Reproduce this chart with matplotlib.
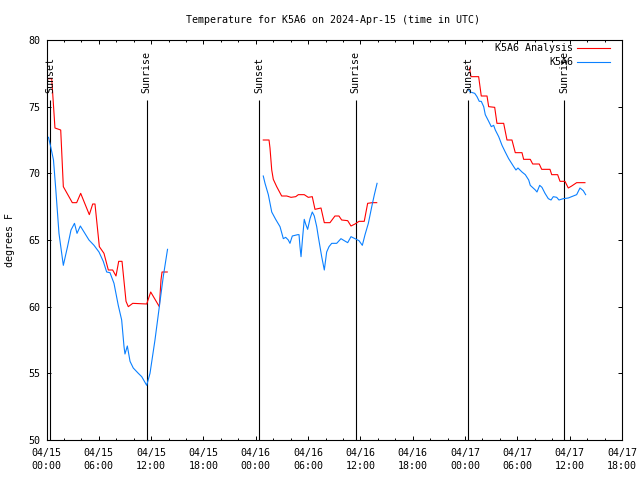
import matplotlib
matplotlib.use("Agg")
import matplotlib.pyplot as plt
from matplotlib.lines import Line2D
from matplotlib.ticker import MultipleLocator

plt.rcParams['font.family'] = ['DejaVu Sans Mono']
FS = 7.2

# hours since 2024-04-15 00:00 UTC
analysis_h1 = [0.21, 0.60, 0.97, 1.63, 1.93, 2.96, 3.46, 3.92, 4.91, 5.30, 5.56, 6.06, 6.59, 7.09, 7.59, 7.97,
               8.28, 8.66, 9.12, 9.38, 9.89, 11.49, 11.95, 12.94, 13.13, 13.25, 13.85]
analysis_t1 = [77.1, 77.1, 73.4, 73.25, 69.0, 67.8, 67.8, 68.5, 66.9, 67.7, 67.7, 64.5, 64.0, 62.75, 62.75, 62.3,
               63.4, 63.4, 60.4, 60.0, 60.25, 60.2, 61.1, 60.0, 62.0, 62.6, 62.6]
analysis_h2 = [24.86, 25.52, 25.63, 25.83, 26.01, 26.40, 26.97, 27.55, 28.04, 28.58, 28.88, 29.56, 30.02, 30.48,
               30.79, 31.48, 31.86, 32.51, 33.08, 33.54, 33.85, 34.54, 34.92, 35.38, 35.84, 36.44, 36.83, 37.36, 37.87]
analysis_t2 = [72.5, 72.5, 71.9, 70.25, 69.55, 69.0, 68.3, 68.3, 68.2, 68.25, 68.4, 68.4, 68.2, 68.25,
               67.3, 67.4, 66.3, 66.3, 66.8, 66.8, 66.5, 66.45, 66.05, 66.2, 66.4, 66.4, 67.75, 67.8, 67.8]
analysis_h3 = [48.51, 48.68, 49.56, 49.86, 50.52, 50.71, 51.40, 51.66, 52.43, 52.81, 53.38, 53.76, 54.53, 54.72,
               55.48, 55.76, 56.51, 56.79, 57.74, 57.94, 58.62, 58.89, 59.46, 59.84, 60.23, 60.80, 61.75]
analysis_t3 = [77.9, 77.25, 77.25, 75.8, 75.8, 75.0, 74.95, 73.75, 73.75, 72.5, 72.5, 71.55, 71.55, 71.05,
               71.05, 70.7, 70.7, 70.3, 70.3, 69.9, 69.9, 69.4, 69.4, 68.9, 69.05, 69.3, 69.3]

obs_h1 = [0.23, 0.48, 0.80, 1.07, 1.43, 1.93, 2.41, 2.81, 3.21, 3.50, 3.88, 4.87, 5.45, 6.02, 6.51, 6.90, 7.28,
          7.74, 8.23, 8.62, 8.89, 9.00, 9.27, 9.58, 9.95, 10.53, 10.92, 11.49, 11.87, 12.44, 12.94, 13.39, 13.88]
obs_t1 = [72.7, 72.0, 71.0, 68.75, 65.5, 63.1, 64.5, 65.75, 66.25, 65.5, 66.05, 65.0, 64.6, 64.1, 63.4, 62.6, 62.55,
          61.75, 60.1, 59.0, 57.0, 56.45, 57.05, 55.9, 55.4, 55.0, 54.75, 54.1, 55.0, 57.5, 60.0, 62.25, 64.3]
obs_h2 = [24.86, 25.06, 25.44, 25.83, 26.28, 26.78, 27.16, 27.43, 27.73, 27.92, 28.19, 28.81, 28.96, 29.07, 29.19,
          29.38, 29.56, 29.72, 29.95, 30.22, 30.48, 30.71, 30.99, 31.17, 31.56, 31.86, 32.13, 32.40, 32.71, 33.28,
          33.77, 34.15, 34.54, 34.92, 35.38, 35.84, 36.22, 36.53, 36.91, 37.30, 37.60, 37.91]
obs_t2 = [69.8, 69.25, 68.4, 67.1, 66.55, 66.0, 65.1, 65.2, 65.0, 64.75, 65.3, 65.4, 65.4, 64.5, 63.75,
          65.25, 66.55, 66.2, 65.8, 66.6, 67.1, 66.8, 66.0, 65.25, 63.75, 62.75, 64.1, 64.5, 64.75, 64.75,
          65.1, 64.95, 64.8, 65.25, 65.1, 64.95, 64.6, 65.4, 66.25, 67.5, 68.4, 69.25]
obs_h3 = [48.34, 48.60, 49.11, 49.37, 49.63, 49.86, 50.14, 50.32, 50.71, 51.01, 51.28, 51.47, 51.86, 52.24, 52.61,
          53.00, 53.58, 53.84, 54.07, 54.53, 54.91, 55.30, 55.48, 56.06, 56.25, 56.56, 56.82, 57.17, 57.55, 57.86,
          58.12, 58.51, 58.77, 59.27, 59.84, 60.41, 60.80, 61.18, 61.56, 61.83]
obs_t3 = [76.3, 76.1, 76.0, 75.75, 75.4, 75.4, 75.0, 74.4, 73.9, 73.5, 73.6, 73.25, 72.75, 72.1, 71.6,
          71.1, 70.5, 70.25, 70.4, 70.1, 69.9, 69.5, 69.1, 68.75, 68.6, 69.1, 68.95, 68.5, 68.1, 68.0,
          68.25, 68.2, 68.0, 68.1, 68.15, 68.3, 68.4, 68.9, 68.7, 68.4]

sunset_h = [0.40, 24.42, 48.38]
sunrise_h = [11.49, 35.45, 59.40]

tick_hours = list(range(0, 67, 6))
tick_labels = ["04/15\n00:00", "04/15\n06:00", "04/15\n12:00", "04/15\n18:00",
               "04/16\n00:00", "04/16\n06:00", "04/16\n12:00", "04/16\n18:00",
               "04/17\n00:00", "04/17\n06:00", "04/17\n12:00", "04/17\n18:00"]
y_ticks = [50, 55, 60, 65, 70, 75, 80]

RED = "#ff0000"
BLUE = "#0a80ff"
W, H = 640, 480

fig = plt.figure(figsize=(6.4, 4.8), dpi=100)
ax = fig.add_axes([46.5 / W, 40 / H, (622 - 46.5) / W, 400 / H])
ax.set_xlim(0, 66)
ax.set_ylim(50, 80)

lw = 0.8
for h, t in [(analysis_h1, analysis_t1), (analysis_h2, analysis_t2), (analysis_h3, analysis_t3)]:
    ax.plot(h, t, color=RED, lw=lw, zorder=3)
for h, t in [(obs_h1, obs_t1), (obs_h2, obs_t2), (obs_h3, obs_t3)]:
    ax.plot(h, t, color=BLUE, lw=lw, zorder=3)

line_top = 75.5
label_y = 76.0
for x in sunset_h:
    ax.vlines(x, 50, line_top, color='black', lw=0.8, zorder=2)
    ax.text(x, label_y, "Sunset", rotation=90, ha='center', va='bottom', fontsize=FS, zorder=4)
for x in sunrise_h:
    ax.vlines(x, 50, line_top, color='black', lw=0.8, zorder=2)
    ax.text(x, label_y, "Sunrise", rotation=90, ha='center', va='bottom', fontsize=FS, zorder=4)

ax.set_xticks(tick_hours)
ax.set_xticklabels(tick_labels, fontsize=FS, linespacing=1.3)
ax.xaxis.set_minor_locator(MultipleLocator(2))
ax.set_yticks(y_ticks)
ax.set_yticklabels([str(v) for v in y_ticks], fontsize=FS)
ax.tick_params(axis='both', which='major', direction='in', length=3.2, width=0.7,
               top=True, right=True, pad=4.5)
ax.tick_params(axis='x', which='major', pad=6)
ax.tick_params(axis='x', which='minor', direction='in', length=1.6, width=0.7, top=True)
for s in ax.spines.values():
    s.set_linewidth(0.8)

fig.text(333 / W, 1 - 20 / H, "Temperature for K5A6 on 2024-Apr-15 (time in UTC)",
         ha='center', va='center', fontsize=FS)
fig.text(10 / W, 0.5, "degrees F", rotation=90, ha='center', va='center', fontsize=FS)

# key (top right, text then sample), overlapping the last Sunrise label as in the original
for i, (lab, col) in enumerate([("K5A6 Analysis", RED), ("K5A6", BLUE)]):
    yy = 1 - (48 + 14 * i) / H
    fig.text(573 / W, yy, lab, ha='right', va='center', fontsize=FS, zorder=6)
    fig.add_artist(Line2D([577 / W, 610 / W], [yy, yy], color=col, lw=lw, transform=fig.transFigure, zorder=6))

fig.savefig("out.png", dpi=100)
